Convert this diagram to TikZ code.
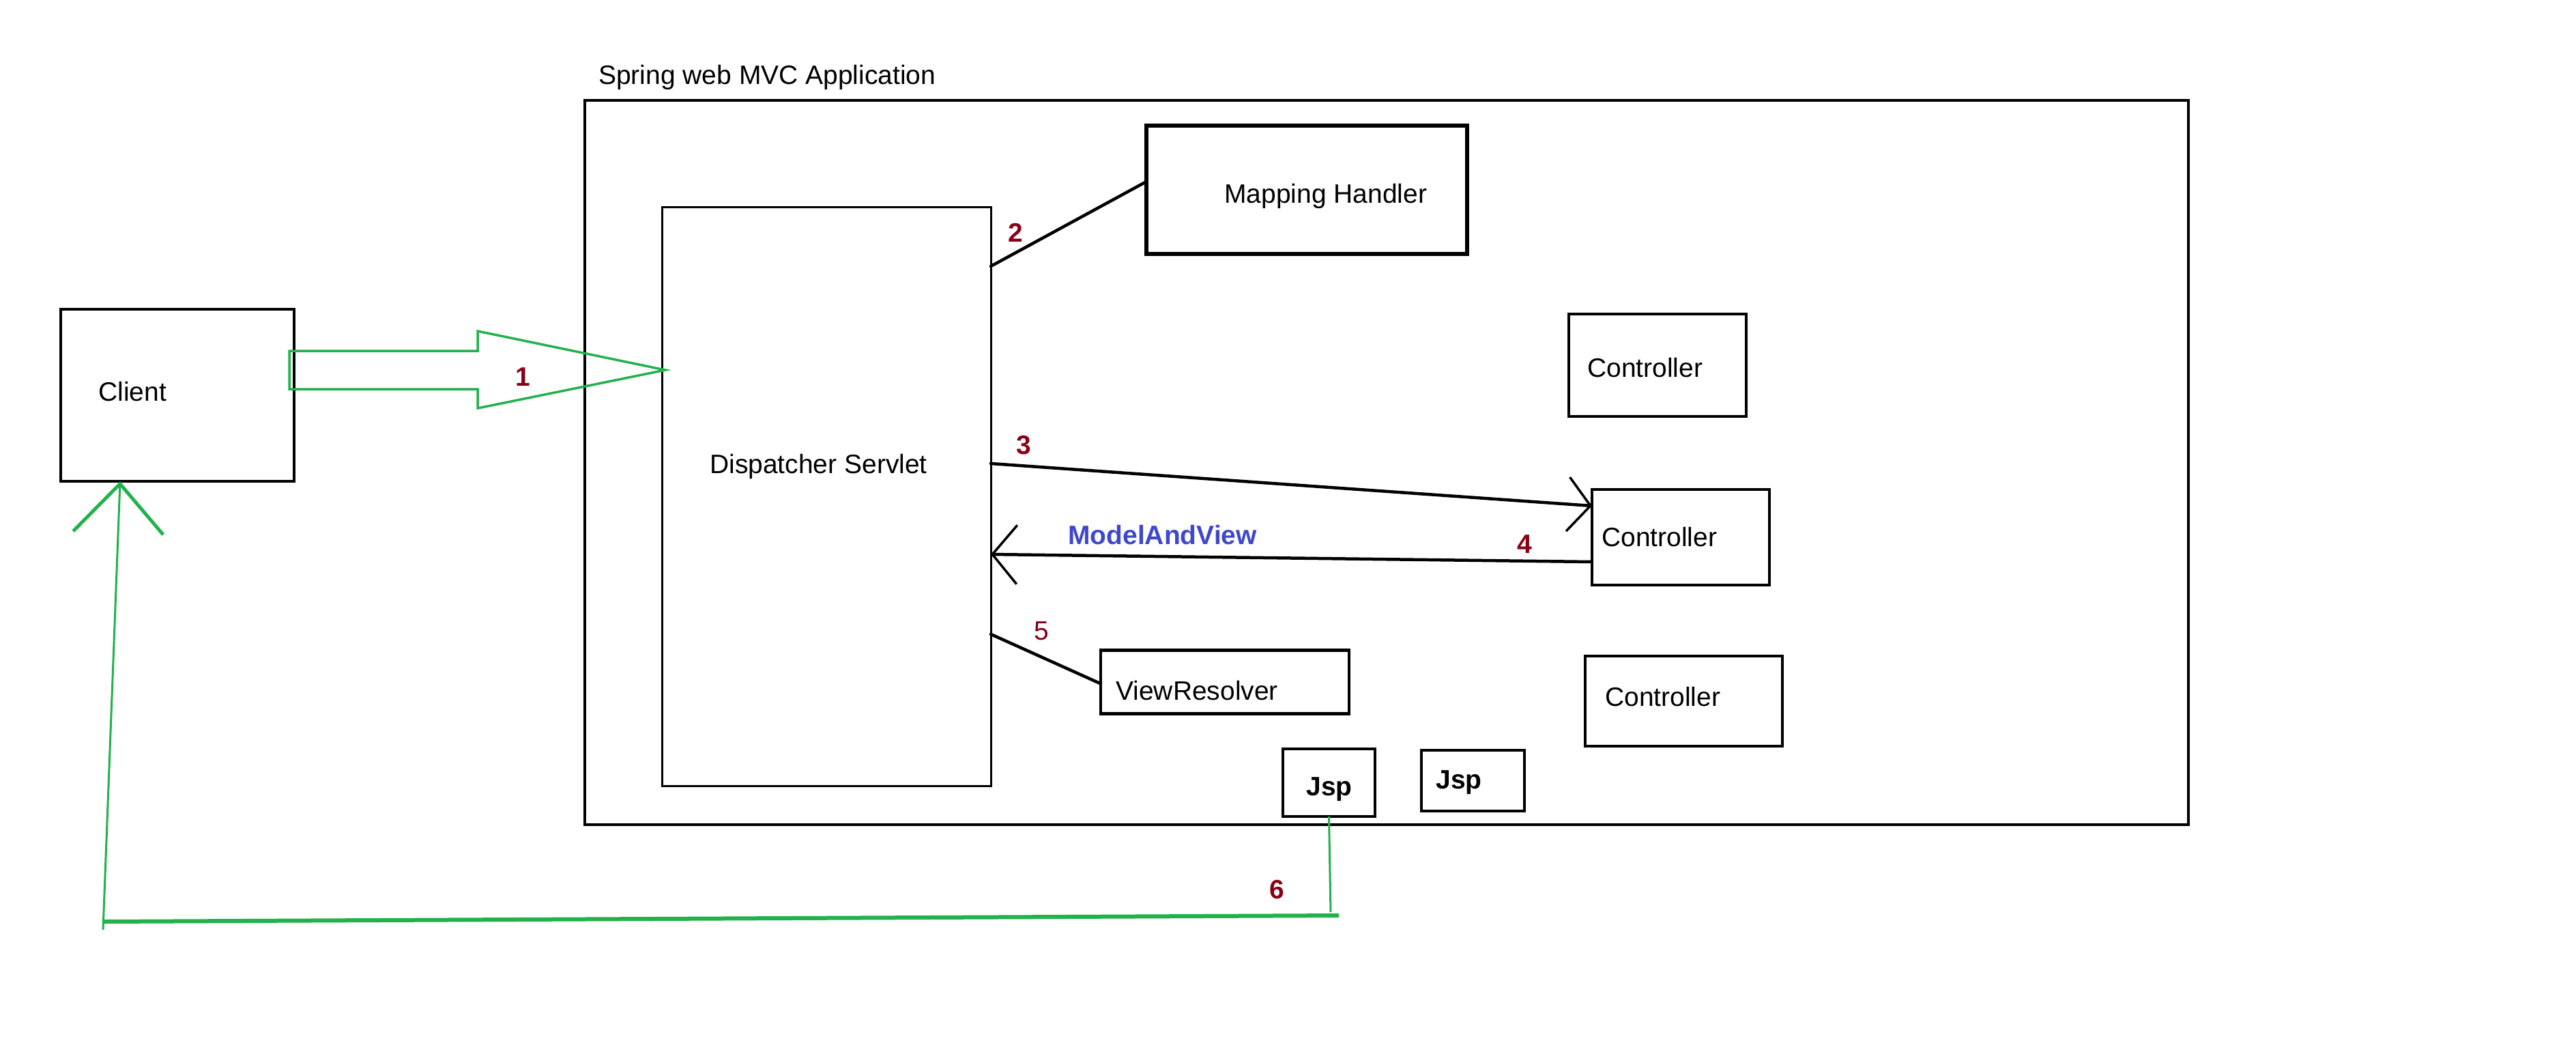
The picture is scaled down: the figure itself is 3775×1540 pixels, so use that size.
\documentclass[tikz,border=0pt]{standalone}
\usepackage{fontspec}
\setmainfont{Liberation Sans}
\usetikzlibrary{arrows.meta,calc}
\definecolor{pgreen}{RGB}{34,177,76}
\definecolor{pred}{RGB}{136,0,21}
\definecolor{pblue}{RGB}{63,72,204}
\begin{document}
\begin{tikzpicture}[x=1pt,y=-1pt,
  box/.style={draw, rectangle, inner sep=0pt, outer sep=0pt, line width=4.5pt},
  txt/.style={inner sep=0pt, anchor=base west, font=\fontsize{39}{47}\selectfont},
  num/.style={inner sep=0pt, anchor=base, text=pred, font=\fontsize{39}{47}\selectfont\bfseries},
  conn/.style={line width=4.5pt, line cap=round},
  barb/.style={-{Straight Barb[length=#1, width=2.4*#1, line width=3.5pt]}}
]
\useasboundingbox (0,0) rectangle (3775,1540);

% boxes
\node[box, line width=3.5pt, minimum width=2350pt, minimum height=1061pt] (outer) at (2032,677.5) {};
\node[box, line width=3pt, minimum width=482pt, minimum height=848pt] (ds) at (1211,727) {};
\node[box, line width=5.5pt, minimum width=470pt, minimum height=188pt] (mh) at (1915,278) {};
\node[box, minimum width=260pt, minimum height=150pt] (c1) at (2429,535) {};
\node[box, minimum width=260pt, minimum height=140pt] (c2) at (2463,787) {};
\node[box, minimum width=289pt, minimum height=132pt] (c3) at (2467.5,1027) {};
\node[box, minimum width=364pt, minimum height=93pt] (vr) at (1795,999) {};
\node[box, minimum width=135pt, minimum height=99pt] (jsp1) at (1947.5,1146.5) {};
\node[box, minimum width=151pt, minimum height=89pt] (jsp2) at (2158.5,1143.5) {};
\node[box, line width=3.5pt, minimum width=342pt, minimum height=252pt] (client) at (260,579) {};

% texts
\node[txt] (ttl) at (877,123) {Spring web MVC Application};
\node[txt] (tclient) at (144,587) {Client};
\node[txt] (tmh) at (1794,297) {Mapping Handler};
\node[txt] (tds) at (1040,693) {Dispatcher Servlet};
\node[txt] (tc1) at (2326,552) {Controller};
\node[txt] (tc2) at (2347,800) {Controller};
\node[txt] (tc3) at (2352,1034) {Controller};
\node[txt] (tvr) at (1635,1025) {ViewResolver};
\node[txt, text=pblue, font=\fontsize{39}{47}\selectfont\bfseries] (tmv) at (1565,797) {ModelAndView};
\node[inner sep=0pt, anchor=base, font=\fontsize{39}{47}\selectfont\bfseries] (tj1) at (1948,1165) {Jsp};
\node[inner sep=0pt, anchor=base, font=\fontsize{39}{47}\selectfont\bfseries] (tj2) at (2138,1155) {Jsp};

% numbers
\node[num] (n1) at (766,565) {1};
\node[num] (n2) at (1488,354) {2};
\node[num] (n3) at (1500,665) {3};
\node[num] (n4) at (2234,810) {4};
\node[num, font=\fontsize{39}{47}\selectfont] (n5) at (1526,937) {5};
\node[num] (n6) at (1871,1316) {6};

% connectors
\draw[conn] ([yshift=-87pt]ds.north east) -- ([yshift=-82pt]mh.north west);
\draw[conn, barb=33pt] ([yshift=-376pt]ds.north east) -- ([yshift=-24pt]c2.north west);
\draw[conn, barb=36pt] ([yshift=-106pt]c2.north west) -- ([yshift=-509pt]ds.north east);
\draw[conn] ([yshift=-626pt]ds.north east) -- ([yshift=-49pt]vr.north west);

% green block arrow 1
\draw[pgreen, line width=3.5pt] (424,514) -- (700,514) -- (700,485) -- (975,542)
  -- (700,598) -- (700,570) -- (424,570) -- cycle;

% green return path 6
\coordinate (g6a) at (1950,1336);
\coordinate (g6b) at (1962,1341);
\coordinate (g6c) at (150,1350);
\coordinate (g6d) at (151,1362);
\draw[pgreen, line width=3pt] (jsp1.south) -- (g6a);
\draw[pgreen, line width=6pt] (g6b) -- (g6c);
\draw[pgreen, line width=3pt, -{Straight Barb[length=72pt, width=132pt, line width=5pt]}]
  (g6d) -- ([xshift=-84pt]client.south);
\end{tikzpicture}
\end{document}
